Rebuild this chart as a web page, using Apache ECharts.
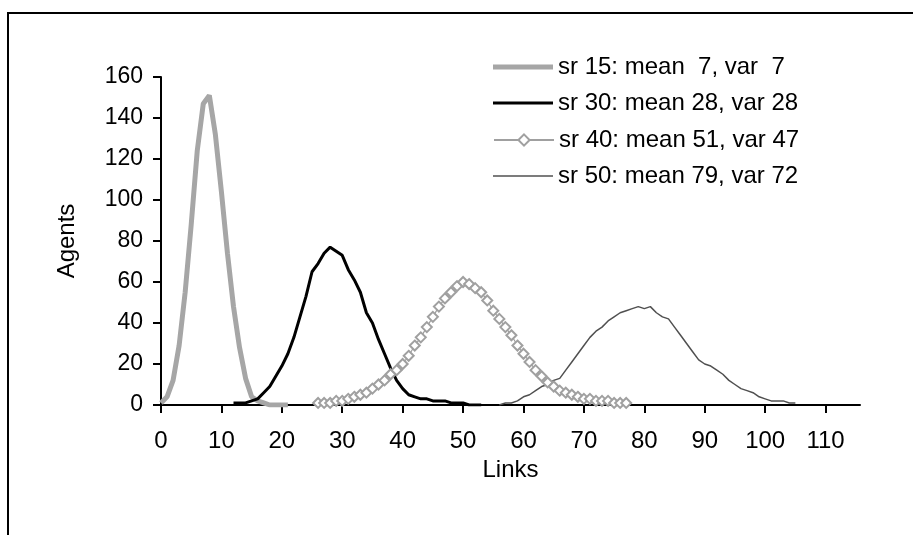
<!DOCTYPE html>
<html>
<head>
<meta charset="utf-8">
<script src="https://cdn.jsdelivr.net/npm/echarts@6/dist/echarts.min.js"></script>
<style>
html,body{margin:0;padding:0;background:#fff;}
#chart{width:913px;height:535px;}
</style>
</head>
<body>
<div id="chart"></div>
<script>
// ---- data ----
const xTickValues = [0, 10, 20, 30, 40, 50, 60, 70, 80, 90, 100, 110];
const seriesNames = [
  'sr 15: mean  7, var  7',
  'sr 30: mean 28, var 28',
  'sr 40: mean 51, var 47',
  'sr 50: mean 79, var 72'
];
const sr15Start = 0;
const sr15Values = [1, 4, 12, 29, 55, 88, 124, 147, 151, 132, 104, 74, 48, 28, 13, 4, 2, 1, 0, 0, 0, 0];
const sr30Start = 12;
const sr30Values = [1, 1, 1, 2, 3, 6, 9, 14, 19, 25, 33, 43, 53, 65, 69, 74, 77, 75, 73, 66, 61, 55, 45, 40, 32, 25, 18, 12, 8, 5, 4, 3, 3, 2, 2, 2, 1, 1, 1, 0, 0, 0];
const sr40Start = 26;
const sr40Values = [1, 1, 1, 2, 2, 3, 4, 5, 6, 8, 10, 12, 15, 17, 20, 24, 29, 33, 38, 43, 48, 52, 55, 58, 60, 59, 57, 55, 51, 46, 42, 38, 34, 29, 25, 21, 17, 14, 11, 9, 7, 6, 5, 4, 3, 3, 2, 2, 2, 1, 1, 1];
const sr50Start = 56;
const sr50Values = [0, 1, 1, 2, 4, 5, 7, 9, 10, 12, 13, 17, 21, 25, 29, 33, 36, 38, 41, 43, 45, 46, 47, 48, 47, 48, 45, 43, 42, 38, 34, 30, 26, 22, 20, 19, 17, 15, 12, 10, 8, 7, 6, 4, 3, 2, 2, 2, 1, 1];

function pairs(start, values) {
  return values.map(function (v, i) { return [start + i, v]; });
}

const FONT = 'Liberation Sans, Arial, sans-serif';
const legendText = {fontFamily: FONT, fontSize: 24, color: '#000'};
const legendRowsY = [62, 98, 135, 171];

function legendFor(i, icon, h, color) {
  const lg = {
    orient: 'vertical',
    left: 488,
    top: legendRowsY[i] - 17,
    itemWidth: 60,
    itemHeight: h,
    textStyle: Object.assign({lineHeight: 34, height: 34}, legendText),
    data: [seriesNames[i]],
    selectedMode: false
  };
  if (icon) { lg.icon = icon; }
  if (color) { lg.itemStyle = {color: color}; }
  return lg;
}

const chart = echarts.init(document.getElementById('chart'), null, {renderer: 'canvas'});

chart.setOption({
  animation: false,
  backgroundColor: '#ffffff',
  graphic: [{
    type: 'rect',
    shape: {x: 8, y: 13, width: 1000, height: 1000},
    style: {fill: 'none', stroke: '#000', lineWidth: 2},
    silent: true
  }],
  grid: {left: 161, right: 53, top: 77, bottom: 130},
  legend: [
    legendFor(0, 'rect', 5, '#a6a6a6'),
    legendFor(1, 'rect', 3, '#000000'),
    legendFor(2, null, 14, null),
    legendFor(3, 'rect', 1.5, '#505050')
  ],
  xAxis: {
    type: 'value',
    min: 0,
    max: 115.7,
    name: 'Links',
    nameLocation: 'middle',
    nameGap: 52,
    nameTextStyle: {fontFamily: FONT, fontSize: 24, color: '#000'},
    axisLine: {show: true, lineStyle: {color: '#000', width: 2}},
    axisTick: {show: true, length: 8, lineStyle: {color: '#000', width: 2}, customValues: xTickValues},
    axisLabel: {fontFamily: FONT, fontSize: 24, color: '#000', margin: 24, customValues: xTickValues},
    splitLine: {show: false}
  },
  yAxis: {
    type: 'value',
    min: 0,
    max: 160,
    interval: 20,
    name: 'Agents',
    nameLocation: 'middle',
    nameGap: 82,
    nameTextStyle: {fontFamily: FONT, fontSize: 24, color: '#000'},
    axisLine: {show: true, lineStyle: {color: '#000', width: 2}},
    axisTick: {show: true, length: 8, lineStyle: {color: '#000', width: 2}},
    axisLabel: {fontFamily: FONT, fontSize: 23, color: '#000', margin: 18},
    splitLine: {show: false}
  },
  series: [
    {
      name: seriesNames[0], type: 'line', symbol: 'none',
      data: pairs(sr15Start, sr15Values),
      lineStyle: {color: '#a6a6a6', width: 5},
      itemStyle: {color: '#a6a6a6'}
    },
    {
      name: seriesNames[1], type: 'line', symbol: 'none',
      data: pairs(sr30Start, sr30Values),
      lineStyle: {color: '#000', width: 3},
      itemStyle: {color: '#000'}
    },
    {
      name: seriesNames[2], type: 'line', symbol: 'emptyDiamond', symbolSize: 10, showSymbol: true,
      data: pairs(sr40Start, sr40Values),
      lineStyle: {color: '#a0a0a0', width: 1.2},
      itemStyle: {color: '#a0a0a0', borderWidth: 1.5}
    },
    {
      name: seriesNames[3], type: 'line', symbol: 'none',
      data: pairs(sr50Start, sr50Values),
      lineStyle: {color: '#505050', width: 1.5},
      itemStyle: {color: '#505050'}
    }
  ]
});
</script>
</body>
</html>
